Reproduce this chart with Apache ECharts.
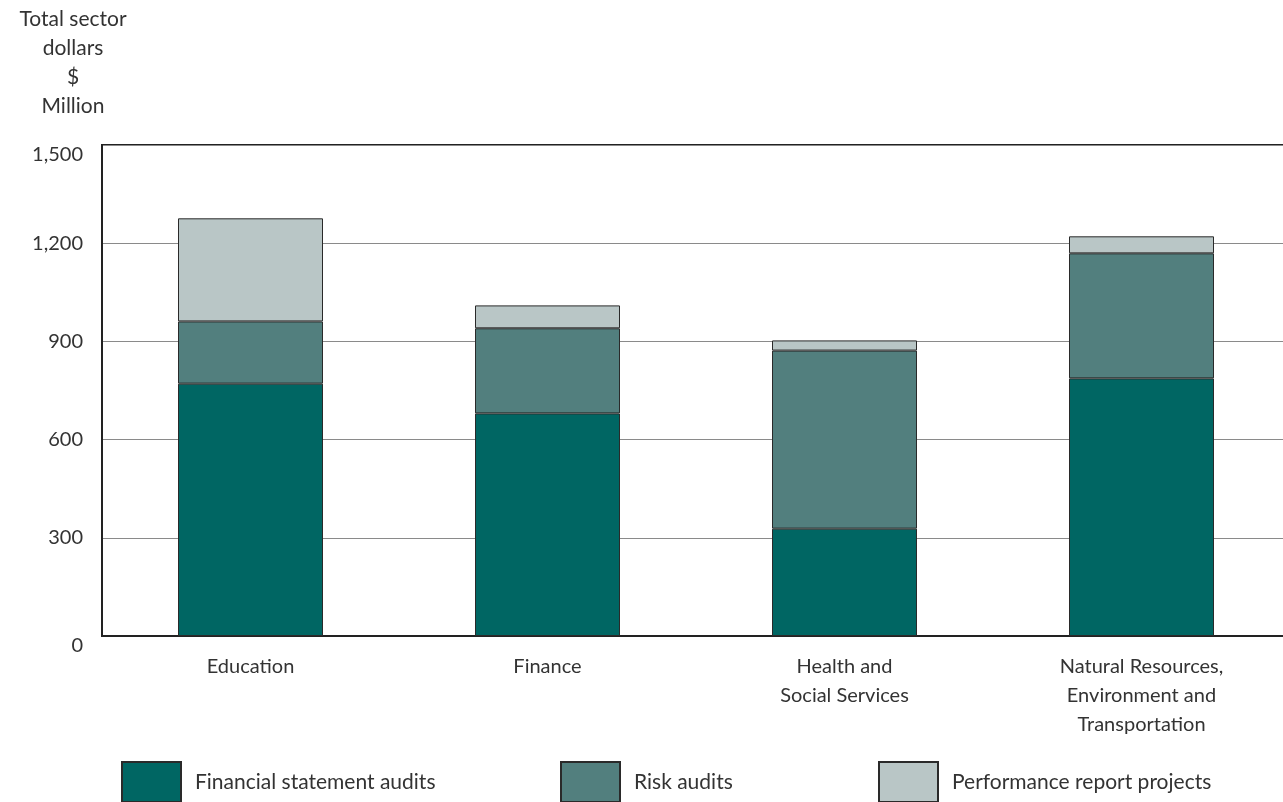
<!DOCTYPE html>
<html>
<head>
<meta charset="utf-8">
<script src="https://cdn.jsdelivr.net/npm/echarts@6/dist/echarts.min.js"></script>
<style>
  html, body { margin: 0; padding: 0; background: #fff; overflow: hidden; }
  #chart { width: 1290px; height: 802px; }
</style>
</head>
<body>
<div id="chart"></div>
<script>
let sectors = ['Education', 'Finance', 'Health and\nSocial Services', 'Natural Resources,\nEnvironment and\nTransportation'];
let financialAudits = [771, 680, 328, 787];
let riskAudits = [190, 260, 544, 382];
let performanceProjects = [315, 70, 31, 52];
let yTicks = [0, 300, 600, 900, 1200, 1500];

let font = 'Lato';
let textColor = '#333';

function legendAt(left, name) {
  return {
    left: left,
    top: 756,
    data: [{ name: name, icon: 'rect' }],
    itemWidth: 59,
    itemHeight: 40,
    itemGap: 0,
    selectedMode: false,
    textStyle: { fontFamily: font, fontSize: 21, color: textColor, padding: [0, 0, 0, 9] }
  };
}

let chart = echarts.init(document.getElementById('chart'));
let option = {
  animation: false,
  title: {
    text: 'Total sector\ndollars\n$\nMillion',
    left: 68,
    top: 0,
    textAlign: 'center',
    textStyle: { fontFamily: font, fontSize: 21, fontWeight: 'normal', color: textColor, lineHeight: 29 }
  },
  legend: [
    legendAt(116, 'Financial statement audits'),
    legendAt(555, 'Risk audits'),
    legendAt(873, 'Performance report projects')
  ],
  grid: {
    left: 102, right: 0, top: 145, bottom: 166,
    show: true, borderColor: '#222', borderWidth: 2
  },
  xAxis: {
    type: 'category',
    data: sectors,
    axisLine: { lineStyle: { color: '#222', width: 2 } },
    axisTick: { show: false },
    axisLabel: { fontFamily: font, fontSize: 20, color: textColor, margin: 16, lineHeight: 29 }
  },
  yAxis: {
    type: 'value',
    min: 0,
    max: 1500,
    interval: 300,
    axisLine: { show: true, lineStyle: { color: '#222', width: 2 } },
    axisTick: { show: false },
    splitLine: { lineStyle: { color: '#8a8a8a', width: 1 } },
    axisLabel: {
      fontFamily: font, fontSize: 20, color: textColor, margin: 19,
      formatter: function (v) {
        if (yTicks.indexOf(v) < 0) return '';
        let s = v.toLocaleString('en-US');
        // end labels sit a little lower than their lines in the original
        return (v === 0 || v === 1500) ? '{low|' + s + '}' : s;
      },
      rich: {
        low: { fontFamily: font, fontSize: 20, color: textColor, padding: [20, 0, 0, 0] }
      }
    }
  },
  series: [
    {
      name: 'Financial statement audits', type: 'bar', stack: 'total', barWidth: 145,
      data: financialAudits,
      itemStyle: { color: '#006663', borderColor: '#2a2a2a', borderWidth: 1 }
    },
    {
      name: 'Risk audits', type: 'bar', stack: 'total', barWidth: 145,
      data: riskAudits,
      itemStyle: { color: '#527f7e', borderColor: '#2a2a2a', borderWidth: 1 }
    },
    {
      name: 'Performance report projects', type: 'bar', stack: 'total', barWidth: 145,
      data: performanceProjects,
      itemStyle: { color: '#b9c6c6', borderColor: '#2a2a2a', borderWidth: 1 }
    }
  ]
};
chart.setOption(option);
</script>
</body>
</html>
